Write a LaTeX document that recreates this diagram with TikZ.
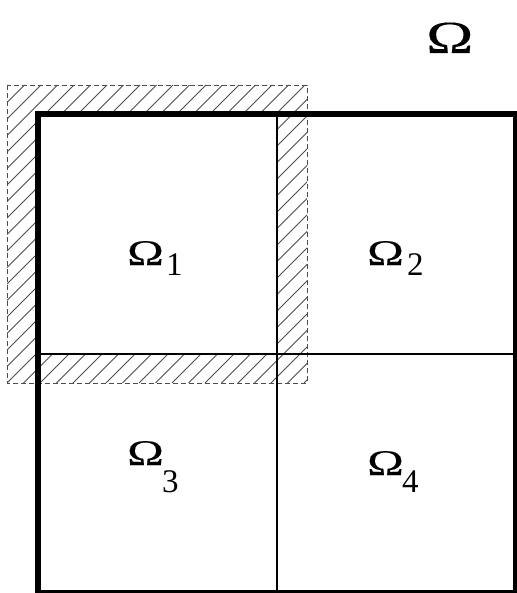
\documentclass[tikz,border=0pt]{standalone}
\usepackage{fontspec}
\setmainfont{Liberation Serif}
\newfontfamily\omfont[FakeBold=0.25]{Liberation Serif}
\begin{document}
\begin{tikzpicture}[x=1pt,y=-1pt,
  thickframe/.style={line width=6pt,line cap=rect},
  gridline/.style={line width=2pt},
  hatchline/.style={line width=0.9pt,black!70},
  dashframe/.style={line width=0.9pt,black!70,dash pattern=on 5pt off 3pt},
  omg/.style={inner sep=0pt,anchor=base west,font=\omfont\fontsize{36}{36}\selectfont},
  sub/.style={inner sep=0pt,anchor=base west,font=\fontsize{33}{33}\selectfont},
  biglbl/.style={inner sep=0pt,anchor=base west,font=\omfont\fontsize{46}{46}\selectfont}]
\useasboundingbox (0,0) rectangle (516,593);
% hatched overlap region
\begin{scope}[even odd rule]
  \clip (7,85) rectangle (307,383) (37.5,114.5) rectangle (277,354);
  \foreach \k in {0,...,37}{
    \pgfmathsetmacro{\c}{93+16.5*\k}
    \draw[hatchline] ({\c-85},85) -- ({\c-383},383);
  }
\end{scope}
\coordinate (h1) at (7,85);
\coordinate (h2) at (307,383);
\draw[dashframe] (h1) rectangle (h2);
% domain
\coordinate (tl) at (38,114.5);
\coordinate (br) at (516,592.5);
\coordinate (vt) at (277,114.5);
\coordinate (vb) at (277,592.5);
\coordinate (hl) at (38,354);
\coordinate (hr) at (516,354);
\draw[gridline] (vt) -- (vb);
\draw[gridline] (hl) -- (hr);
\draw[thickframe] (tl) rectangle (br);
% labels
\node[biglbl] (om) at (426,53) {\scalebox{1.38}[1]{Ω}};
\node[omg] (o1) at (127,265) {\scalebox{1.37}[1]{Ω}};
\node[sub] (s1) at (166,275) {1};
\node[omg] (o2) at (367,265) {\scalebox{1.37}[1]{Ω}};
\node[sub] (s2) at (407,275) {2};
\node[omg] (o3) at (127,465) {\scalebox{1.37}[1]{Ω}};
\node[sub] (s3) at (162,492) {3};
\node[omg] (o4) at (367,475) {\scalebox{1.37}[1]{Ω}};
\node[sub] (s4) at (402,492) {4};
\end{tikzpicture}
\end{document}
